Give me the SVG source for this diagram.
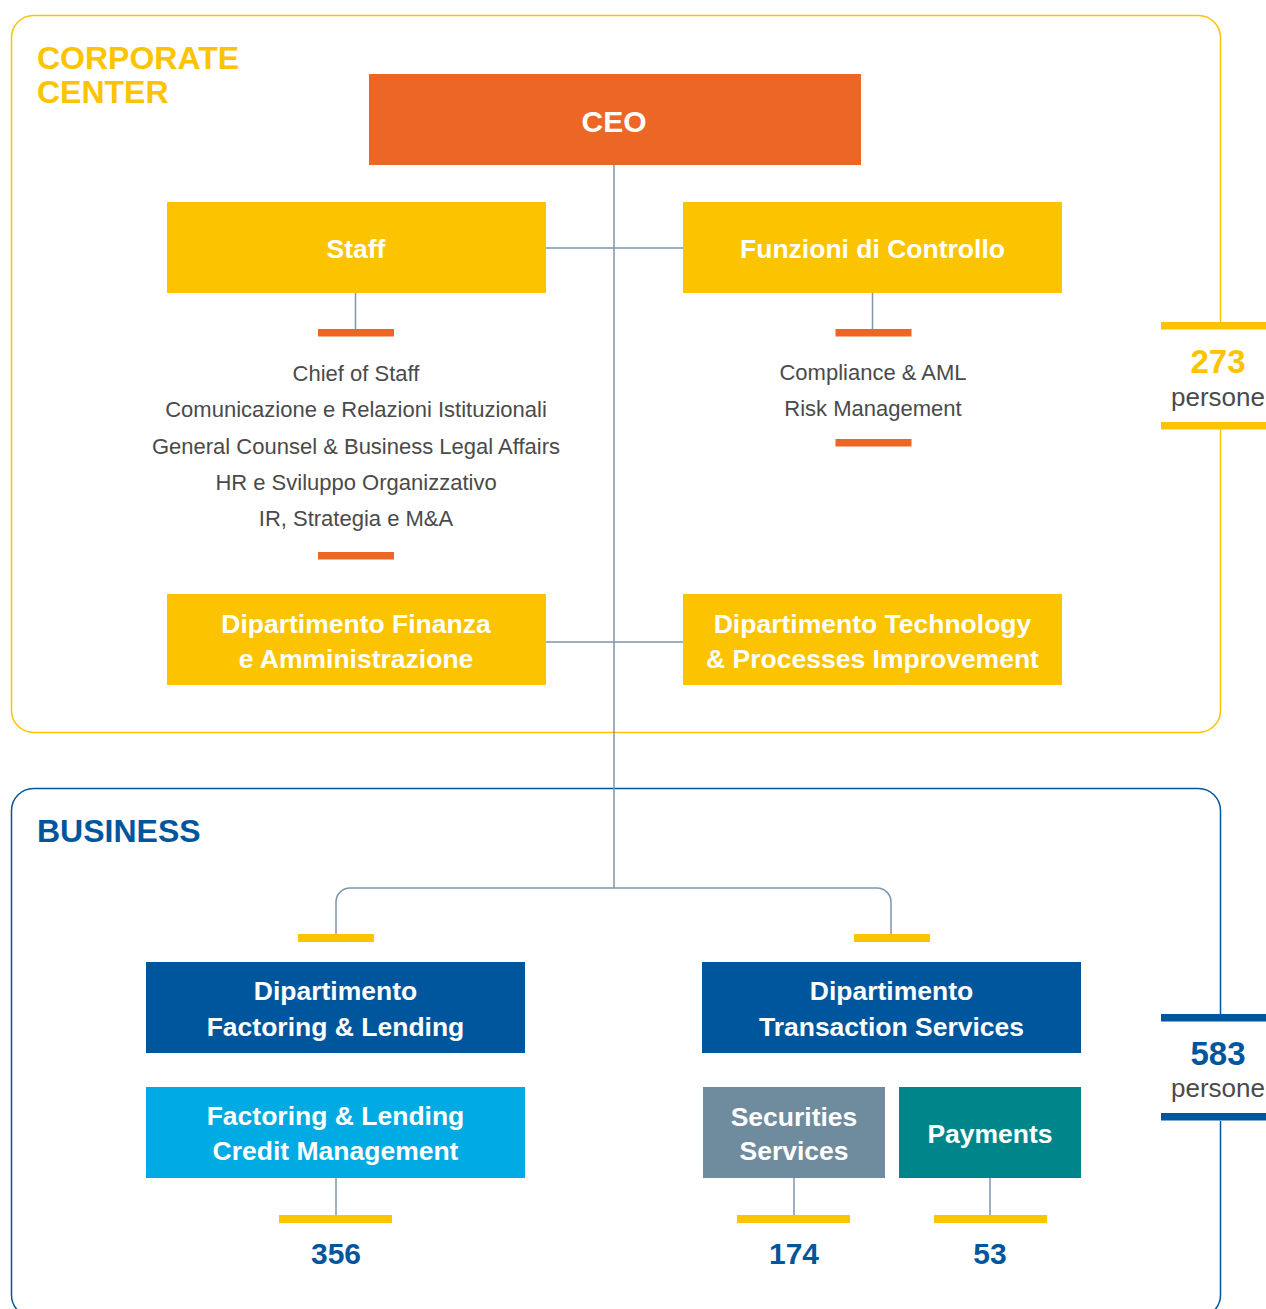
<svg xmlns="http://www.w3.org/2000/svg" width="1266" height="1309" viewBox="0 0 1266 1309">
<style>
.t{font-family:"Liberation Sans",Arial,sans-serif}
.bx{font-family:"Liberation Sans",Arial,sans-serif;font-weight:bold;font-size:26.5px;fill:#fff;text-anchor:middle}
.lst{font-family:"Liberation Sans",Arial,sans-serif;font-size:22px;fill:#4a4a4a;text-anchor:middle}
.num{font-family:"Liberation Sans",Arial,sans-serif;font-weight:bold;font-size:30px;fill:#00569d;text-anchor:middle}
.per{font-family:"Liberation Sans",Arial,sans-serif;font-size:26px;fill:#4a4a4a;text-anchor:middle}
.cn{fill:none;stroke:#7c96ab;stroke-width:1.5}
.yb{fill:#fcc300}
.ob{fill:#ec6726}
.db{fill:#00569d}
</style>
<rect width="1266" height="1309" fill="#fff"/>
<g id="frames" fill="none" stroke-width="1.5">
<path d="M1220.5,322 V37.5 A22,22 0 0 0 1198.5,15.5 H33.5 A22,22 0 0 0 11.5,37.5 V710.5 A22,22 0 0 0 33.5,732.5 H1198.5 A22,22 0 0 0 1220.5,710.5 V429" stroke="#fcc300"/>
<path d="M1220.5,1014 V810.5 A22,22 0 0 0 1198.5,788.5 H33.5 A22,22 0 0 0 11.5,810.5 V1295 A22,22 0 0 0 33.5,1317 H1198.5 A22,22 0 0 0 1220.5,1295 V1121" stroke="#00569d"/>
</g>
<g id="section-titles">
<text class="t" x="37" y="69" font-size="32" font-weight="bold" fill="#fcc300">CORPORATE</text>
<text class="t" x="37" y="103" font-size="32" font-weight="bold" fill="#fcc300">CENTER</text>
<text class="t" x="37" y="842" font-size="32" font-weight="bold" fill="#00569d">BUSINESS</text>
</g>
<g id="connectors">
<path class="cn" d="M614,165 V888"/>
<path class="cn" d="M546,248 H683"/>
<path class="cn" d="M546,642 H683"/>
<path class="cn" d="M355.5,293 V329"/>
<path class="cn" d="M872.5,293 V329"/>
<path class="cn" d="M336,934 V902 A14,14 0 0 1 350,888 H877 A14,14 0 0 1 891,902 V934"/>
<path class="cn" d="M336,1178 V1215"/>
<path class="cn" d="M794,1178 V1215"/>
<path class="cn" d="M990,1178 V1215"/>
</g>
<g id="bars">
<rect class="ob" x="318" y="329" width="76" height="7.5"/>
<rect class="ob" x="318" y="552" width="76" height="7.5"/>
<rect class="ob" x="835.5" y="329" width="76" height="7.5"/>
<rect class="ob" x="835.5" y="439" width="76" height="7.5"/>
<rect class="yb" x="298" y="934" width="76" height="8"/>
<rect class="yb" x="854" y="934" width="76" height="8"/>
<rect class="yb" x="279" y="1215" width="113" height="8"/>
<rect class="yb" x="737" y="1215" width="113" height="8"/>
<rect class="yb" x="934" y="1215" width="113" height="8"/>
</g>
<g id="ceo">
<rect class="ob" x="369" y="74" width="492" height="91"/>
<text class="bx" x="614" y="132" font-size="30" style="font-size:30px">CEO</text>
</g>
<g id="staff">
<rect class="yb" x="167" y="202" width="379" height="91"/>
<text class="bx" x="356" y="258">Staff</text>
</g>
<g id="staff-list">
<text class="lst" x="356" y="381">Chief of Staff</text>
<text class="lst" x="356" y="417">Comunicazione e Relazioni Istituzionali</text>
<text class="lst" x="356" y="454">General Counsel &amp; Business Legal Affairs</text>
<text class="lst" x="356" y="490">HR e Sviluppo Organizzativo</text>
<text class="lst" x="356" y="526">IR, Strategia e M&amp;A</text>
</g>
<g id="funzioni">
<rect class="yb" x="683" y="202" width="379" height="91"/>
<text class="bx" x="872.5" y="258">Funzioni di Controllo</text>
</g>
<g id="funzioni-list">
<text class="lst" x="873" y="380">Compliance &amp; AML</text>
<text class="lst" x="873" y="416">Risk Management</text>
</g>
<g id="finanza">
<rect class="yb" x="167" y="594" width="379" height="91"/>
<text class="bx" x="356" y="633">Dipartimento Finanza</text>
<text class="bx" x="356" y="668">e Amministrazione</text>
</g>
<g id="technology">
<rect class="yb" x="683" y="594" width="379" height="91"/>
<text class="bx" x="872.5" y="633">Dipartimento Technology</text>
<text class="bx" x="872.5" y="668">&amp; Processes Improvement</text>
</g>
<g id="count-corporate">
<rect class="yb" x="1161" y="322" width="105" height="7.5"/>
<rect class="yb" x="1161" y="422" width="105" height="7.5"/>
<text class="num" x="1218" y="373" style="fill:#fcc300;font-size:33px">273</text>
<text class="per" x="1218" y="406">persone</text>
</g>
<g id="count-business">
<rect class="db" x="1161" y="1014" width="105" height="7.5"/>
<rect class="db" x="1161" y="1113" width="105" height="7.5"/>
<text class="num" x="1218" y="1065" style="font-size:33px">583</text>
<text class="per" x="1218" y="1097">persone</text>
</g>
<g id="factoring-lending">
<rect class="db" x="146" y="962" width="379" height="91"/>
<text class="bx" x="335.5" y="1000">Dipartimento</text>
<text class="bx" x="335.5" y="1036">Factoring &amp; Lending</text>
</g>
<g id="transaction-services">
<rect class="db" x="702" y="962" width="379" height="91"/>
<text class="bx" x="891.5" y="1000">Dipartimento</text>
<text class="bx" x="891.5" y="1036">Transaction Services</text>
</g>
<g id="credit-management">
<rect x="146" y="1087" width="379" height="91" fill="#00aae2"/>
<text class="bx" x="335.5" y="1125">Factoring &amp; Lending</text>
<text class="bx" x="335.5" y="1160">Credit Management</text>
<text class="num" x="336" y="1264">356</text>
</g>
<g id="securities">
<rect x="703" y="1087" width="182" height="91" fill="#6f8b9e"/>
<text class="bx" x="794" y="1126">Securities</text>
<text class="bx" x="794" y="1160">Services</text>
<text class="num" x="794" y="1264">174</text>
</g>
<g id="payments">
<rect x="899" y="1087" width="182" height="91" fill="#00868a"/>
<text class="bx" x="990" y="1143">Payments</text>
<text class="num" x="990" y="1264">53</text>
</g>
</svg>
